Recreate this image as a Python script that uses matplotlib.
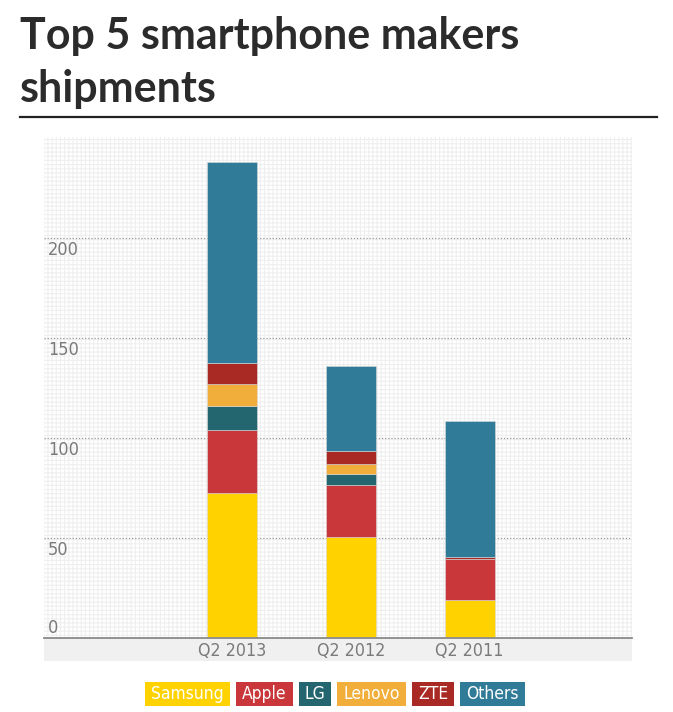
import matplotlib
matplotlib.use("Agg")
import matplotlib.pyplot as plt
from matplotlib.patches import Rectangle
from matplotlib.lines import Line2D
from matplotlib import font_manager as fm

# ---- data ----
quarters = ["Q2 2013", "Q2 2012", "Q2 2011"]
makers = ["Samsung", "Apple", "LG", "Lenovo", "ZTE", "Others"]
samsung = [72.6, 50.5, 18.8]
apple = [31.2, 25.8, 20.6]
lg = [12.0, 5.9, 0.0]
lenovo = [11.4, 5.0, 0.0]
zte = [10.1, 6.3, 1.3]
others = [100.7, 42.5, 67.8]
yticks = [0, 50, 100, 150, 200]

colors = ["#FFD200", "#C9373A", "#24666F", "#F2AE3A", "#A92A24", "#2F7B98"]
series = [samsung, apple, lg, lenovo, zte, others]

cond = [f for f in fm.fontManager.ttflist
        if f.name == "DejaVu Sans" and str(f.stretch) in ("condensed", "semi-condensed")]
narrow = dict(family="DejaVu Sans", stretch="condensed") if cond else dict(family="DejaVu Sans")
title_font = "Lato"

W, H = 673, 712
fig = plt.figure(figsize=(W / 100, H / 100), dpi=100)

def fx(px):
    return px / W

def fy(py):
    return 1 - py / H

# plot area
x0, x1, y0, y1 = 44, 632, 137, 638
ax = fig.add_axes([fx(x0), fy(y1), fx(x1 - x0), (y1 - y0) / H])
ax.set_ylim(0, (y1 - y0) / 2.0)
centers = [231.7, 350.7, 469.7]
step = 119.0
ax.set_xlim((x0 - centers[0]) / step, (x1 - centers[0]) / step)
for s in ax.spines.values():
    s.set_visible(False)
ax.set_xticks([])
ax.set_yticks([])
ax.set_facecolor("white")

plt.rcParams["hatch.color"] = "#efefef"
plt.rcParams["hatch.linewidth"] = 0.8
bg = Rectangle((0, 0), 1, 1, transform=ax.transAxes, facecolor="white",
               edgecolor="#efefef", hatch="++++", lw=0, zorder=0)
ax.add_patch(bg)

# gridlines
for v in yticks[1:]:
    ax.axhline(v, color="#9a9a9a", lw=0.9, ls=(0, (1, 1.5)), zorder=1)

# bars
xs = list(range(len(quarters)))
bottoms = [0.0] * len(quarters)
bw = 50 / step
for vals, col, name in zip(series, colors, makers):
    ax.bar(xs, vals, bw, bottom=bottoms, color=col, edgecolor="#d9d9d9",
           linewidth=0.4, zorder=3, label=name)
    bottoms = [b + v for b, v in zip(bottoms, vals)]

# y labels
for v in yticks:
    off = 5.0 if v == 0 else -6.0
    ax.text(4 / (x1 - x0), v + off, str(v), transform=ax.get_yaxis_transform(),
            ha="left", va="center", fontsize=13, color="#7a7a7a",
            zorder=4, **narrow)

# axis line + grey band
fig.add_artist(Rectangle((fx(x0), fy(661)), fx(x1 - x0), (661 - 638) / H,
                         transform=fig.transFigure, facecolor="#f0f0f0",
                         edgecolor="none", zorder=0))
ax.axhline(0, color="#8a8a8a", lw=1.3, zorder=5, clip_on=False)
for xi, q in zip(xs, quarters):
    ax.text(xi, -6.5, q, ha="center", va="center", fontsize=12.8,
            color="#7a7a7a", clip_on=False, **narrow)

# title
fig.text(fx(20), fy(49), "Top 5 smartphone makers", fontsize=31,
         fontweight="bold", family=title_font, color="#2b2b2b", va="baseline")
fig.text(fx(20), fy(102), "shipments", fontsize=31,
         fontweight="bold", family=title_font, color="#2b2b2b", va="baseline")
fig.add_artist(Line2D([fx(20), fx(657)], [fy(116.5), fy(116.5)],
                      transform=fig.transFigure, color="#222222", lw=1.6))

# legend boxes
renderer = fig.canvas.get_renderer()
pad = 6
gap = 6
texts = []
widths = []
for name in makers:
    t = fig.text(0, fy(694), name, fontsize=12.5, color="white",
                 ha="left", va="center", zorder=6, **narrow)
    bb = t.get_window_extent(renderer)
    texts.append(t)
    widths.append(bb.width + 2 * pad)
total = sum(widths) + gap * (len(widths) - 1)
cx = 335
xpos = cx - total / 2
for t, w, col in zip(texts, widths, colors):
    fig.add_artist(Rectangle((fx(xpos), fy(706)), fx(w), 24 / H,
                             transform=fig.transFigure, facecolor=col,
                             edgecolor="none", zorder=5))
    t.set_position((fx(xpos + pad), fy(694)))
    xpos += w + gap

fig.savefig("out.png", dpi=100)
